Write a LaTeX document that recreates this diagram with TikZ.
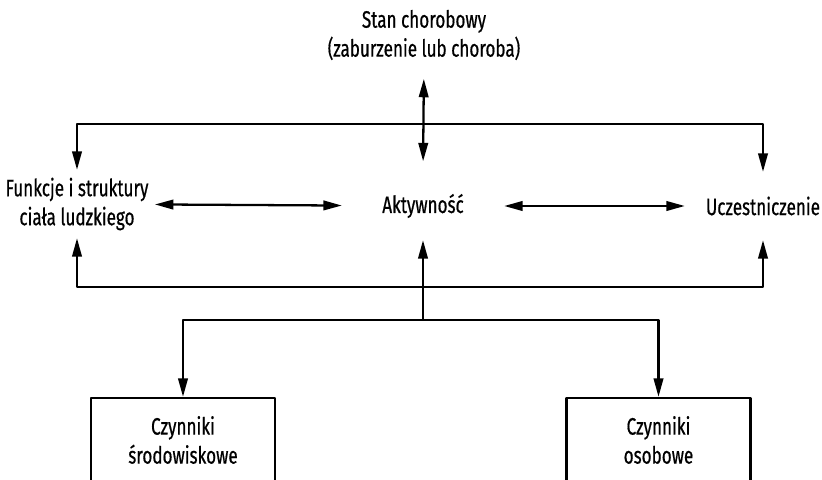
\documentclass[tikz,border=0pt]{standalone}
\usepackage{fontspec}
\setmainfont[FakeStretch=0.72, FakeBold=0.6]{Fira Sans}
\usetikzlibrary{arrows.meta}
\begin{document}
\begin{tikzpicture}[x=0.02cm, y=-0.02cm, font={\fontsize{13.5}{16.5}\selectfont}, line join=round, >={Triangle[length=10.5pt,width=5.4pt]}, line width=1.3pt]
	\tikzset{pojecie/.style={align=center, inner sep=0pt, minimum height=1.32cm},
		czynnik/.style={draw, align=center, minimum width=3.68cm, minimum height=1.68cm}}
	\clip(0,0) rectangle (822,480);
	% gorny wezel
	\node[align=center, inner sep=0pt] (stan) at (424,35) {Stan chorobowy\\(zaburzenie lub choroba)};
	% srodkowy rzad
	\node[pojecie] (funkcje) at (77,204) {Funkcje i struktury\\ciała ludzkiego};
	\node[pojecie, minimum width=3.2cm] (aktyw) at (423,206) {Aktywność};
	\node[pojecie] (uczest) at (763,206) {Uczestniczenie};
	% czynniki kontekstowe
	\node[czynnik] (srod) at (183,440) {Czynniki\\środowiskowe};
	\node[czynnik] (osob) at (658.5,440) {Czynniki\\osobowe};
	\coordinate (gora) at (423,124);
	\coordinate (srodek) at (423,287);
	\coordinate (dol) at (423,320);
	\draw[<->, shorten <=10pt, shorten >=6pt] (stan.south) -- (aktyw.north);
	\draw[->] (gora) -| (funkcje.north);
	\draw[->] (gora) -| (uczest.north);
	\draw[<->, shorten <=3pt] (funkcje) -- (aktyw);
	\draw[<->, shorten >=0.4cm] (aktyw) -- (uczest);
	\draw[->] (srodek) -| (funkcje.south);
	\draw[->] (srodek) -| (uczest.south);
	\draw[->] (dol) -- (aktyw.south);
	\draw[->] (dol) -| (srod.north);
	\draw[->] (dol) -| (osob.north);
\end{tikzpicture}
\end{document}
